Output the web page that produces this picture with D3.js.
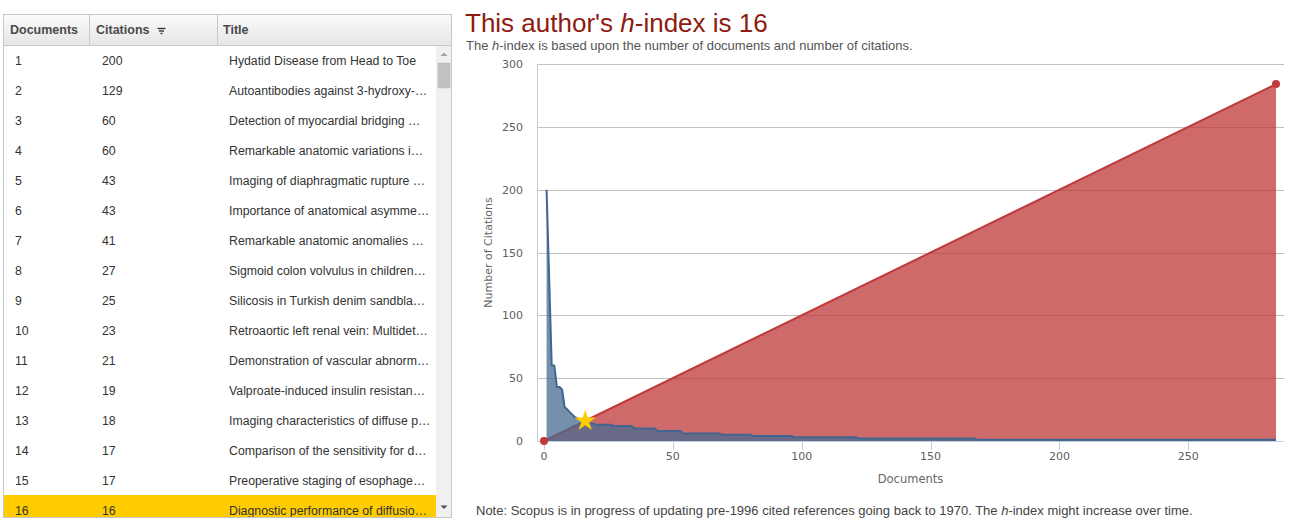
<!DOCTYPE html>
<html><head><meta charset="utf-8">
<script src="https://cdn.jsdelivr.net/npm/d3@7"></script>
<style>
html,body{margin:0;padding:0;background:#fff;width:1297px;height:527px;overflow:hidden;}
svg{position:absolute;left:0;top:0;}
</style></head>
<body>
<svg id="chart" width="1297" height="527"></svg>
<script>
// ---------- DATA ----------
const hIndex = 16;
const citations = [
  200,129,60,60,43,43,41,27,25,23,21,19,18,17,17,16,
  15,14,14,13,13,13,13,13,13,13,
  12,12,12,12,12,12,12,12,
  10,10,10,10,10,10,10,10,10,
  8,8,8,8,8,8,8,8,8,8,
  6,6,6,6,6,6,6,6,6,6,6,6,6,6,6,
  5,5,5,5,5,5,5,5,5,5,5,5,
  4,4,4,4,4,4,4,4,4,4,4,4,4,4,4,4,
  3,3,3,3,3,3,3,3,3,3,3,3,3,3,3,3,3,3,3,3,3,3,3,3,3,
  2,2,2,2,2,2,2,2,2,2,2,2,2,2,2,2,2,2,2,2,
  2,2,2,2,2,2,2,2,2,2,2,2,2,2,2,2,2,2,2,2,
  2,2,2,2,2,2,
  1,1,1,1,1,1,1,1,1,1,1,1,1,1,1,1,1,1,1,1,
  1,1,1,1,1,1,1,1,1,1,1,1,1,1,1,1,1,1,1,1,
  1,1,1,1,1,1,1,1,1,1,1,1,1,1,1,1,1,1,1,1,
  1,1,1,1,1,1,1,1,1,1,1,1,1,1,1,1,1,1,1,1,
  1,1,1,1,1,1,1,1,1,1,1,1,1,1,1,1,1,1,1,1,
  1,1,1,1,1,1,1,1,1,1,1,1,1,1,1,1,1
];
const tableDocs = [1,2,3,4,5,6,7,8,9,10,11,12,13,14,15,16];
const tableCitations = [200,129,60,60,43,43,41,27,25,23,21,19,18,17,17,16];
const tableTitles = [
  "Hydatid Disease from Head to Toe",
  "Autoantibodies against 3-hydroxy-\u2026",
  "Detection of myocardial bridging \u2026",
  "Remarkable anatomic variations i\u2026",
  "Imaging of diaphragmatic rupture \u2026",
  "Importance of anatomical asymme\u2026",
  "Remarkable anatomic anomalies \u2026",
  "Sigmoid colon volvulus in children\u2026",
  "Silicosis in Turkish denim sandbla\u2026",
  "Retroaortic left renal vein: Multidet\u2026",
  "Demonstration of vascular abnorm\u2026",
  "Valproate-induced insulin resistan\u2026",
  "Imaging characteristics of diffuse p\u2026",
  "Comparison of the sensitivity for d\u2026",
  "Preoperative staging of esophage\u2026",
  "Diagnostic performance of diffusio\u2026"
];
const headers = ["Documents","Citations","Title"];
const yTicks = [0,50,100,150,200,250,300];
const xTicks = [0,50,100,150,200,250];

// ---------- SETUP ----------
const svg = d3.select("#chart");
const defs = svg.append("defs");
const fontA = "Arial, 'Liberation Sans', sans-serif";
const fontB = "'DejaVu Sans', Verdana, sans-serif";

// ---------- TABLE ----------
const T = {x:3, y:14, w:449, h:504, headH:31, rowH:30, scrollW:16};
const grad = defs.append("linearGradient").attr("id","hdr").attr("x1",0).attr("x2",0).attr("y1",0).attr("y2",1);
grad.append("stop").attr("offset","0%").attr("stop-color","#fbfbfb");
grad.append("stop").attr("offset","100%").attr("stop-color","#e6e6e6");
defs.append("clipPath").attr("id","tclip").append("rect")
  .attr("x",T.x).attr("y",T.y).attr("width",T.w).attr("height",T.h);

const tg = svg.append("g").attr("clip-path","url(#tclip)");
tg.append("rect").attr("x",T.x).attr("y",T.y).attr("width",T.w).attr("height",T.h).attr("fill","#fff");
tg.append("rect").attr("x",T.x).attr("y",T.y).attr("width",T.w).attr("height",T.headH).attr("fill","url(#hdr)");
tg.append("line").attr("x1",T.x).attr("x2",T.x+T.w).attr("y1",T.y+T.headH+0.5).attr("y2",T.y+T.headH+0.5).attr("stroke","#c8c8c8");
[89.5, 217.5].forEach(x=>tg.append("line").attr("x1",x).attr("x2",x).attr("y1",T.y).attr("y2",T.y+T.headH).attr("stroke","#c8c8c8"));
const headTextX = [10, 96, 223];
tg.selectAll("text.hdr").data(headers).join("text").attr("class","hdr")
  .attr("x",(d,i)=>headTextX[i]).attr("y",T.y+T.headH/2+4.5)
  .attr("font-family",fontA).attr("font-size",12.5).attr("font-weight","bold").attr("fill","#4a4a4a")
  .text(d=>d);
// sort icon
[[157.5,165.5,28.5],[159,164,31],[160.5,162.5,33.5]].forEach(s=>
  tg.append("line").attr("x1",s[0]).attr("x2",s[1]).attr("y1",s[2]).attr("y2",s[2]).attr("stroke","#333").attr("stroke-width",1.4));

const bodyTop = T.y + T.headH;
const rowY = i => bodyTop + i*T.rowH;
tg.selectAll("rect.hl").data(tableDocs.filter(d=>d===hIndex)).join("rect").attr("class","hl")
  .attr("x",T.x).attr("y",d=>rowY(d-1)).attr("width",T.w-T.scrollW).attr("height",T.rowH).attr("fill","#ffcc00");
const rows = tg.selectAll("g.row").data(tableDocs).join("g").attr("class","row")
  .attr("transform",(d,i)=>`translate(0,${rowY(i)+T.rowH/2+4.5})`);
rows.append("text").attr("x",15).text(d=>d);
rows.append("text").attr("x",102).text((d,i)=>tableCitations[i]);
rows.append("text").attr("x",229).text((d,i)=>tableTitles[i]);
rows.selectAll("text").attr("font-family",fontA).attr("font-size",12.3).attr("fill","#333");

// scrollbar
const sx = T.x + T.w - T.scrollW;
tg.append("rect").attr("x",sx).attr("y",bodyTop+1).attr("width",T.scrollW).attr("height",T.h-T.headH).attr("fill","#f0f0f0");
tg.append("path").attr("d",`M${sx+4.5},${bodyTop+11} L${sx+11.5},${bodyTop+11} L${sx+8},${bodyTop+7.5} Z`).attr("fill","#a3a3a3");
tg.append("rect").attr("x",sx+2).attr("y",63).attr("width",T.scrollW-4).attr("height",25).attr("fill","#c1c1c1").attr("stroke","#b5b5b5").attr("stroke-width",0.5);
tg.append("path").attr("d",`M${sx+4.5},505.5 L${sx+11.5},505.5 L${sx+8},509 Z`).attr("fill","#505050");
svg.append("rect").attr("x",T.x+0.5).attr("y",T.y+0.5).attr("width",T.w-1).attr("height",T.h-1)
  .attr("fill","none").attr("stroke","#c6c6c6");

// ---------- CHART ----------
const P = {left:537, right:1284, top:64, bottom:441};
const x = d3.scaleLinear().domain([0, citations.length]).range([544, 1276]);
const y = d3.scaleLinear().domain([0, 300]).range([P.bottom, P.top]);

// title
const title = svg.append("text").attr("x",465).attr("y",32).attr("font-family",fontA).attr("font-size",26).attr("fill","#8e1b10");
title.append("tspan").text("This author's ");
title.append("tspan").attr("font-style","italic").text("h");
title.append("tspan").text("-index is 16");
const sub = svg.append("text").attr("x",466).attr("y",50).attr("font-family",fontA).attr("font-size",13).attr("fill","#555");
sub.append("tspan").text("The ");
sub.append("tspan").attr("font-style","italic").text("h");
sub.append("tspan").text("-index is based upon the number of documents and number of citations.");

// grid
svg.append("g").selectAll("line").data(yTicks.filter(t=>t>0)).join("line")
  .attr("x1",P.left).attr("x2",P.right).attr("y1",d=>Math.round(y(d))+0.5).attr("y2",d=>Math.round(y(d))+0.5)
  .attr("stroke","#c0c0c0");
// y axis line
svg.append("line").attr("x1",P.left+0.5).attr("x2",P.left+0.5).attr("y1",P.top).attr("y2",P.bottom).attr("stroke","#c0d0e0");
// y labels
svg.append("g").selectAll("text").data(yTicks).join("text")
  .attr("x",523).attr("y",d=>y(d)+4).attr("text-anchor","end")
  .attr("font-family",fontB).attr("font-size",11).attr("fill","#606060").text(d=>d);
svg.append("text").attr("transform",`translate(492,${(P.top+P.bottom)/2}) rotate(-90)`)
  .attr("text-anchor","middle").attr("font-family",fontB).attr("font-size",11).attr("fill","#666")
  .text("Number of Citations");

// h-index red series
const hPoints = [[0,0],[citations.length, citations.length]];
svg.append("path").datum(hPoints)
  .attr("d", d3.area().x(d=>x(d[0])).y0(y(0)).y1(d=>y(d[1])))
  .attr("fill","#bf3838").attr("fill-opacity",0.75);
svg.append("path").datum(hPoints)
  .attr("d", d3.line().x(d=>x(d[0])).y(d=>y(d[1])))
  .attr("fill","none").attr("stroke","#c0393b").attr("stroke-width",2);

// citations blue series
const cPoints = citations.map((c,i)=>[i+1,c]);
svg.append("path").datum(cPoints)
  .attr("d", d3.area().x(d=>x(d[0])).y0(y(0)).y1(d=>y(d[1])))
  .attr("fill","#476b92").attr("fill-opacity",0.75);
svg.append("path").datum(cPoints)
  .attr("d", d3.line().x(d=>x(d[0])).y(d=>y(d[1])))
  .attr("fill","none").attr("stroke","#41668f").attr("stroke-width",2).attr("stroke-linejoin","round");

// x axis
svg.append("line").attr("x1",P.left).attr("x2",P.right).attr("y1",P.bottom+0.5).attr("y2",P.bottom+0.5).attr("stroke","#c0d0e0");
svg.append("g").selectAll("line").data(xTicks).join("line")
  .attr("x1",d=>Math.round(x(d))+0.5).attr("x2",d=>Math.round(x(d))+0.5)
  .attr("y1",P.bottom).attr("y2",P.bottom+9).attr("stroke","#c0d0e0");
svg.append("g").selectAll("text").data(xTicks).join("text")
  .attr("x",d=>x(d)).attr("y",460).attr("text-anchor","middle")
  .attr("font-family",fontB).attr("font-size",11).attr("fill","#606060").text(d=>d);
svg.append("text").attr("x",(P.left+P.right)/2).attr("y",483).attr("text-anchor","middle")
  .attr("font-family",fontB).attr("font-size",11.5).attr("fill","#666").text("Documents");

// markers
svg.append("g").selectAll("circle").data(hPoints).join("circle")
  .attr("cx",d=>x(d[0])).attr("cy",d=>y(d[1])).attr("r",4).attr("fill","#c0393b");
svg.append("path").attr("d", d3.symbol(d3.symbolStar, 140)())
  .attr("transform",`translate(${x(hIndex)},${y(hIndex)})`).attr("fill","#ffcc00");

// note
const note = svg.append("text").attr("x",476).attr("y",515).attr("font-family",fontA).attr("font-size",13).attr("fill","#444");
note.append("tspan").text("Note: Scopus is in progress of updating pre-1996 cited references going back to 1970. The ");
note.append("tspan").attr("font-style","italic").text("h");
note.append("tspan").text("-index might increase over time.");
</script>
</body></html>
